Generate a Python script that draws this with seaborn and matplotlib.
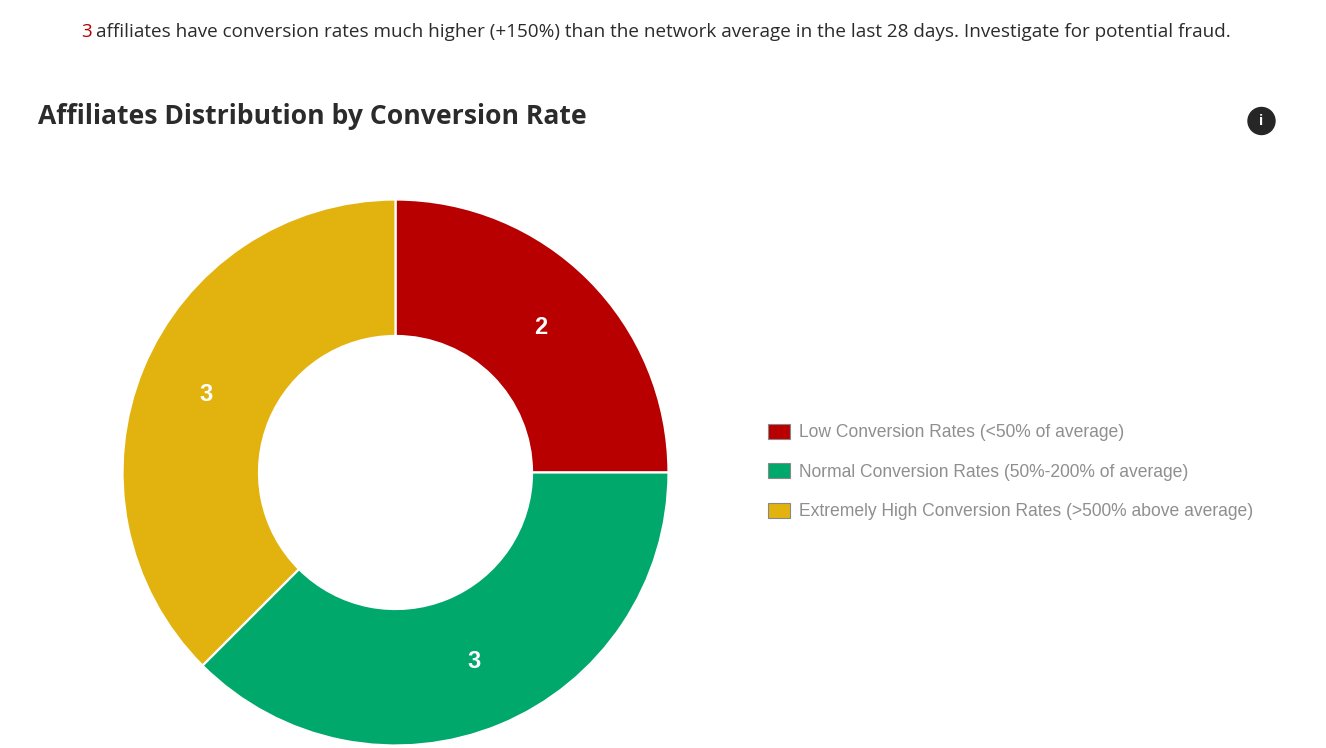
import matplotlib
matplotlib.use("Agg")
import numpy as np
import matplotlib.pyplot as plt
from matplotlib.patches import Circle
import seaborn as sns

sns.set_theme(style="white")
plt.rcParams['font.family'] = ['Open Sans', 'DejaVu Sans']

categories = ["Low Conversion Rates (<50% of average)",
              "Normal Conversion Rates (50%-200% of average)",
              "Extremely High Conversion Rates (>500% above average)"]
counts = [2, 3, 3]
colors = ["#b80000", "#00a86b", "#e2b30f"]

W, H = 1326, 748
fig = plt.figure(figsize=(W/100, H/100), dpi=100, facecolor="white")

# --- donut, centre 395.5,472.5 radius 273 px ---
R = 273
cx, cy = 395.5, 472.5
ax = fig.add_axes([(cx-R-2)/W, 1-(cy+R+2)/H, (2*R+4)/W, (2*R+4)/H])
wedges, _ = ax.pie(counts, colors=colors, startangle=90, counterclock=False, radius=1,
                   wedgeprops=dict(width=0.5, edgecolor="white", linewidth=1.6))
ax.set_xlim(-(R+2)/R, (R+2)/R)
ax.set_ylim(-(R+2)/R, (R+2)/R)
ax.set_aspect("equal")

# labels in the middle of each ring
total = sum(counts)
start = 0
for c in counts:
    mid = (start + c/2)/total*2*np.pi
    ax.text(0.75*np.sin(mid), 0.75*np.cos(mid), str(c), color="white", fontsize=17,
            fontweight="bold", family="Liberation Sans", ha="center", va="center")
    start += c

# --- texts ---
txt_kw = dict(color="#2b2b2b", fontsize=13.6, va="center")
fig.text(81/W, 1-32/H, "3", **{**txt_kw, "color": "#b80000"})
fig.text(96/W, 1-32/H, "affiliates have conversion rates much higher (+150%) than the network average in the last 28 days. Investigate for potential fraud.", **txt_kw)
fig.text(38/W, 1-116/H, "Affiliates Distribution by Conversion Rate",
         fontweight="bold", fontsize=19.05, color="#2b2b2b", va="center")

# --- legend ---
leg = fig.legend(wedges, categories, loc="center left", bbox_to_anchor=(768/W, 1-472/H),
                 frameon=False, borderpad=0, borderaxespad=0,
                 prop=dict(family="Liberation Sans", size=12.65), labelcolor="#8f8f8f",
                 handlelength=1.25, handleheight=0.96, handletextpad=0.51, labelspacing=1.24)
for h in leg.legend_handles:
    h.set_edgecolor("#888888")
    h.set_linewidth(0.8)

# --- info icon ---
ov = fig.add_axes([0, 0, 1, 1], facecolor="none")
ov.set_xlim(0, W)
ov.set_ylim(H, 0)
ov.axis("off")
ov.add_patch(Circle((1261.5, 121), 13.5, color="#262626"))
ov.text(1261.5, 121, "i", color="white", fontsize=10, fontweight="bold", ha="center", va="center")

fig.savefig("out.png", dpi=100)
